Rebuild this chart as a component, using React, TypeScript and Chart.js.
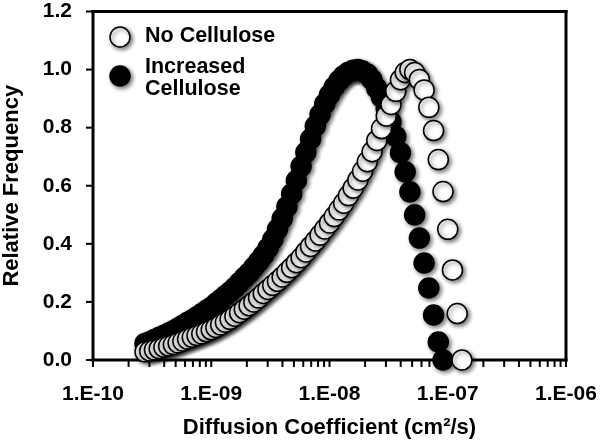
import { useEffect, useRef } from "react";
import { Chart, registerables } from "chart.js";

Chart.register(...registerables);

// Diffusion coefficient bins (cm^2/s)
const diffusionCoefficients = [
  2.754e-10, 3.020e-10, 3.311e-10, 3.631e-10, 3.981e-10, 4.365e-10, 4.786e-10, 5.248e-10, 5.754e-10, 6.310e-10,
  6.918e-10, 7.586e-10, 8.318e-10, 9.120e-10, 1.000e-9, 1.096e-9, 1.202e-9, 1.318e-9, 1.445e-9, 1.585e-9,
  1.738e-9, 1.905e-9, 2.089e-9, 2.291e-9, 2.512e-9, 2.754e-9, 3.020e-9, 3.311e-9, 3.631e-9, 3.981e-9,
  4.365e-9, 4.786e-9, 5.248e-9, 5.754e-9, 6.310e-9, 6.918e-9, 7.586e-9, 8.318e-9, 9.120e-9, 1.000e-8,
  1.096e-8, 1.202e-8, 1.318e-8, 1.445e-8, 1.585e-8, 1.738e-8, 1.905e-8, 2.089e-8, 2.291e-8, 2.512e-8,
  2.754e-8, 3.020e-8, 3.311e-8, 3.631e-8, 3.981e-8, 4.365e-8, 4.786e-8, 5.248e-8, 5.754e-8, 6.310e-8,
  6.918e-8, 7.586e-8, 8.318e-8, 9.120e-8, 1.000e-7, 1.096e-7, 1.202e-7, 1.318e-7,
];

const noCellulose = [
  0.028, 0.031, 0.035, 0.039, 0.044, 0.048, 0.053, 0.059, 0.065, 0.072,
  0.078, 0.084, 0.090, 0.097, 0.104, 0.112, 0.121, 0.130, 0.140, 0.151,
  0.163, 0.175, 0.187, 0.200, 0.214, 0.229, 0.243, 0.257, 0.271, 0.286,
  0.302, 0.318, 0.335, 0.352, 0.372, 0.391, 0.410, 0.430, 0.451, 0.472,
  0.494, 0.517, 0.540, 0.566, 0.592, 0.620, 0.650, 0.683, 0.717, 0.756,
  0.797, 0.840, 0.880, 0.925, 0.965, 0.990, 1.000, 0.990, 0.966, 0.930,
  0.870, 0.790, 0.690, 0.580, 0.450, 0.310, 0.160, 0.000,
];

const increasedCellulose = [
  0.057, 0.063, 0.071, 0.078, 0.085, 0.093, 0.101, 0.110, 0.120, 0.130,
  0.139, 0.149, 0.160, 0.171, 0.182, 0.195, 0.208, 0.222, 0.235, 0.250,
  0.267, 0.284, 0.300, 0.319, 0.339, 0.360, 0.385, 0.415, 0.450, 0.487,
  0.528, 0.572, 0.618, 0.667, 0.715, 0.761, 0.805, 0.845, 0.882, 0.913,
  0.940, 0.962, 0.979, 0.991, 0.998, 1.000, 0.995, 0.985, 0.965, 0.935,
  0.905, 0.865, 0.820, 0.770, 0.714, 0.648, 0.579, 0.500, 0.420, 0.334,
  0.248, 0.155, 0.062, 0.000,
];

const xMajorValues = [1e-10, 1e-9, 1e-8, 1e-7, 1e-6];
const xMajorLabels = ["1.E-10", "1.E-09", "1.E-08", "1.E-07", "1.E-06"];
const yTickValues = [0, 0.2, 0.4, 0.6, 0.8, 1.0, 1.2];

const seriesNames = ["No Cellulose", "Increased Cellulose"];
const legendLines = [["No Cellulose"], ["Increased", "Cellulose"]];

const FONT = "'Liberation Sans', Arial, sans-serif";

export default function App() {
  const ref = useRef<HTMLCanvasElement | null>(null);

  useEffect(() => {
    document.body.style.margin = "0";
    const canvas = ref.current;
    if (!canvas) return;

    const xTicks: number[] = [];
    for (let i = 0; i < xMajorValues.length - 1; i++) {
      for (let m = 1; m <= 9; m++) xTicks.push(m * xMajorValues[i]);
    }
    xTicks.push(xMajorValues[xMajorValues.length - 1]);

    const majorLabel = (v: number) => {
      for (let i = 0; i < xMajorValues.length; i++) {
        if (Math.abs(Math.log10(v) - Math.log10(xMajorValues[i])) < 1e-6) return xMajorLabels[i];
      }
      return "";
    };

    const shadow = (ctx: CanvasRenderingContext2D) => {
      ctx.shadowColor = "rgba(0,0,0,0.55)";
      ctx.shadowBlur = 4;
      ctx.shadowOffsetX = 2;
      ctx.shadowOffsetY = 2;
    };

    const zeroPad = (scale: any) => {
      scale.paddingTop = 0;
      scale.paddingBottom = 0;
      scale.paddingLeft = 0;
      scale.paddingRight = 0;
    };

    const framePlugin = {
      id: "frameAndLegend",
      beforeDatasetsDraw(chart: any) {
        const { ctx, chartArea } = chart;
        const { left, right, top, bottom } = chartArea;
        const xs = chart.scales.x;
        const ys = chart.scales.y;
        ctx.save();
        ctx.fillStyle = "#000";
        const t = 3;
        ctx.fillRect(left - t / 2, top - t / 2, right - left + t, t);
        ctx.fillRect(left - t / 2, bottom - t / 2, right - left + t, t);
        ctx.fillRect(left - t / 2, top - t / 2, t, bottom - top + t);
        ctx.fillRect(right - t / 2, top - t / 2, t, bottom - top + t);
        xTicks.forEach((v) => {
          const px = xs.getPixelForValue(v);
          ctx.fillRect(px - 1, bottom, 2, 7);
        });
        yTickValues.forEach((v) => {
          const py = ys.getPixelForValue(v);
          ctx.fillRect(left - 7, py - 1, 7, 2);
        });
        ctx.restore();
        ctx.save();
        shadow(ctx);
      },
      afterDatasetsDraw(chart: any) {
        const { ctx } = chart;
        ctx.restore();
        const markers = [
          { x: 120, y: 37, fill: "#fff" },
          { x: 120, y: 76, fill: "#000" },
        ];
        const textY = [[36], [67, 89]];
        ctx.save();
        markers.forEach((m, i) => {
          ctx.save();
          shadow(ctx);
          ctx.beginPath();
          ctx.arc(m.x, m.y, 10, 0, Math.PI * 2);
          ctx.fillStyle = m.fill;
          ctx.fill();
          ctx.lineWidth = 1.5;
          ctx.strokeStyle = "#000";
          ctx.stroke();
          ctx.restore();
          ctx.fillStyle = "#000";
          ctx.font = `bold 21.5px ${FONT}`;
          ctx.textBaseline = "middle";
          ctx.textAlign = "left";
          legendLines[i].forEach((line, j) => {
            ctx.fillText(line, 145, textY[i][j]);
          });
        });
        ctx.restore();
      },
    };

    const chart = new Chart(canvas, {
      type: "scatter",
      data: {
        datasets: [
          {
            label: seriesNames[0],
            data: noCellulose.map((y, i) => ({ x: diffusionCoefficients[i], y })),
            pointRadius: 10,
            pointBackgroundColor: "#ffffff",
            pointBorderColor: "#000000",
            pointBorderWidth: 1.5,
            showLine: false,
            clip: false as any,
          },
          {
            label: seriesNames[1],
            data: increasedCellulose.map((y, i) => ({ x: diffusionCoefficients[i], y })),
            pointRadius: 10,
            pointBackgroundColor: "#000000",
            pointBorderColor: "#000000",
            pointBorderWidth: 1.5,
            showLine: false,
            clip: false as any,
          },
        ],
      },
      options: {
        responsive: false,
        animation: false,
        events: [],
        layout: { padding: { top: 11, right: 34, left: 0, bottom: 0 } },
        plugins: {
          legend: { display: false },
          tooltip: { enabled: false },
        },
        scales: {
          x: {
            type: "logarithmic",
            min: 1e-10,
            max: 1e-6,
            afterBuildTicks: (scale: any) => {
              scale.ticks = xTicks.map((v) => ({ value: v }));
            },
            afterFit: (scale: any) => {
              scale.height = 83;
              zeroPad(scale);
            },
            ticks: {
              autoSkip: false,
              maxRotation: 0,
              minRotation: 0,
              padding: 22,
              color: "#000",
              font: { family: FONT, size: 21, weight: "bold" },
              callback: (v: any) => majorLabel(Number(v)),
            },
            grid: { display: false, drawTicks: false },
            border: { display: false },
            title: {
              display: true,
              text: "Diffusion Coefficient (cm²/s)",
              color: "#000",
              font: { family: FONT, size: 22, weight: "bold" },
              padding: { top: 0, bottom: 2 },
            },
          },
          y: {
            min: 0,
            max: 1.2,
            afterBuildTicks: (scale: any) => {
              scale.ticks = yTickValues.map((v) => ({ value: v }));
            },
            afterFit: (scale: any) => {
              scale.width = 93;
              zeroPad(scale);
            },
            ticks: {
              padding: 21,
              color: "#000",
              font: { family: FONT, size: 21, weight: "bold" },
              callback: (v: any) => Number(v).toFixed(1),
            },
            grid: { display: false, drawTicks: false },
            border: { display: false },
            title: {
              display: true,
              text: "Relative Frequency",
              color: "#000",
              font: { family: FONT, size: 22, weight: "bold" },
              padding: { top: -1, bottom: 0 },
            },
          },
        },
      },
      plugins: [framePlugin],
    });

    return () => {
      chart.destroy();
    };
  }, []);

  return (
    <div style={{ width: 600, height: 443 }}>
      <canvas ref={ref} width={600} height={443} style={{ display: "block" }} />
    </div>
  );
}
